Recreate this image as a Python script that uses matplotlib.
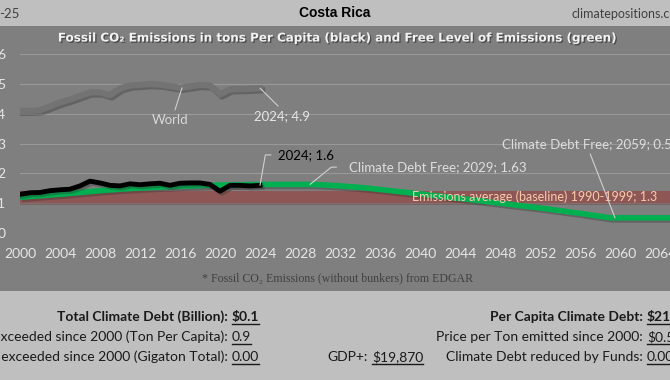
import matplotlib
matplotlib.use("Agg")
import matplotlib.pyplot as plt
import matplotlib.patheffects as pe
from matplotlib.patches import Rectangle
from matplotlib.lines import Line2D

# ---------------- data ----------------
years_cr = list(range(2000, 2025))
costa_rica = [1.30, 1.35, 1.36, 1.42, 1.45, 1.47, 1.58, 1.74, 1.68, 1.60,
              1.58, 1.65, 1.62, 1.65, 1.67, 1.60, 1.67, 1.68, 1.68, 1.63,
              1.40, 1.60, 1.60, 1.58, 1.60]
world = [4.10, 4.10, 4.12, 4.25, 4.38, 4.48, 4.60, 4.72, 4.72, 4.62,
         4.85, 4.95, 4.97, 5.00, 4.98, 4.93, 4.87, 4.92, 4.97, 4.95,
         4.65, 4.82, 4.83, 4.84, 4.86]
years_free = [2000, 2002, 2004, 2006, 2008, 2010, 2012, 2014, 2016, 2018,
              2020, 2022, 2024, 2026, 2029, 2030, 2032, 2034, 2036, 2040,
              2044, 2048, 2052, 2056, 2059, 2065]
free_level = [1.20, 1.25, 1.30, 1.36, 1.42, 1.47, 1.51, 1.54, 1.57, 1.59,
              1.61, 1.62, 1.63, 1.63, 1.63, 1.62, 1.58, 1.53, 1.46, 1.31,
              1.16, 1.00, 0.84, 0.66, 0.51, 0.51]
baseline_low, baseline_high = 1.0, 1.4
x_ticks = list(range(2000, 2068, 4))
y_ticks = [0, 1, 2, 3, 4, 5, 6]

W, H = 670, 380
def fx(x): return x / W
def fy(y): return 1 - y / H

FONT = "Lato"
LFS = 9.5
fig = plt.figure(figsize=(6.7, 3.8), dpi=100)
fig.patch.set_facecolor("#bfbfbf")

# dark chart panel
fig.patches.append(Rectangle((0, fy(291)), 1, fy(26) - fy(291),
                             transform=fig.transFigure, facecolor="#7f7f7f",
                             edgecolor="none", zorder=-10))

ax = fig.add_axes([fx(20), fy(233), 1 - fx(20), fy(54.2) - fy(233)])
ax.set_zorder(1)
ax.set_facecolor("none")
ax.set_xlim(2000, 2065)
ax.set_ylim(0, 6)
for s in ax.spines.values():
    s.set_visible(False)
ax.set_yticks(y_ticks)
ax.set_xticks(x_ticks)
ax.grid(axis="y", color="#999999", lw=0.8)
ax.set_axisbelow(True)
ax.tick_params(length=0, colors="#e6e6e6", labelsize=10)
ax.tick_params(axis="x", pad=11)
ax.tick_params(axis="y", pad=10.5)
for lab in ax.get_xticklabels() + ax.get_yticklabels():
    lab.set_fontfamily(FONT)

shadow = [pe.SimpleLineShadow(offset=(1.5, -1.5), alpha=0.35, shadow_color="#303030"), pe.Normal()]

# baseline band
ax.fill_between([2000, 2065], baseline_low, baseline_high, color="#8e5654", lw=0, zorder=1)
ax.fill_between([2000, 2065], baseline_low - 0.05, baseline_low, color="#6e5554", lw=0, zorder=1, alpha=0.6)

ax.plot(years_free, free_level, color="#00b050", lw=4, zorder=3, path_effects=shadow,
        solid_capstyle="butt")
ax.plot(years_cr, world, color="#737373", lw=4.5, zorder=3, path_effects=shadow)
ax.plot(years_cr, costa_rica, color="black", lw=3.5, zorder=4, path_effects=shadow)

lead = dict(arrowstyle="-", color="#d0d0d0", lw=0.8, shrinkA=1, shrinkB=0)
ax.text(2039.2, 1.21, "Emissions average (baseline) 1990-1999; 1.3", color="#f8cbad",
        fontsize=9, family=FONT, va="center", ha="left", zorder=5)

ax.annotate("World", xy=(2016.2, world[16]), xytext=(2015, 3.79), color="#d9d9d9",
            fontsize=LFS, family=FONT, ha="center", va="center",
            arrowprops=dict(lead, relpos=(0.6, 1.0)), zorder=5)
ax.annotate("2024; %.1f" % world[-1], xy=(years_cr[-1], world[-1]), xytext=(2026.2, 3.93),
            color="#e6e6e6", fontsize=LFS, family=FONT, ha="center", va="center",
            arrowprops=dict(lead, relpos=(0.5, 1.0)), zorder=5)
ax.annotate("2024; %.1f" % costa_rica[-1], xy=(years_cr[-1], costa_rica[-1]),
            xytext=(2025.8, 2.62), color="black", fontsize=LFS, family=FONT,
            ha="left", va="center",
            arrowprops=dict(lead, relpos=(0, 0.5), shrinkA=3,
                            connectionstyle="angle,angleA=0,angleB=80,rad=0"), zorder=5)
ax.annotate("Climate Debt Free; 2029; 1.63", xy=(2029, 1.63), xytext=(2032.9, 2.21),
            color="#dedede", fontsize=LFS, family=FONT, ha="left", va="center",
            arrowprops=dict(lead, relpos=(0, 0.5), shrinkA=7,
                            connectionstyle="angle,angleA=0,angleB=39,rad=0"), zorder=5)
ax.annotate("Climate Debt Free; 2059; 0.5", xy=(2059.5, 0.51), xytext=(2048.2, 2.99),
            color="#dedede", fontsize=LFS, family=FONT, ha="left", va="center",
            arrowprops=dict(lead, relpos=(0.51, 0.0)), zorder=5)

# titles
fig.text(fx(335), fy(13), "Costa Rica", fontsize=10, fontweight="bold", family="Liberation Sans",
         ha="center", va="center", color="black")
fig.text(fx(-1), fy(14), "-25", fontsize=9.5, family=FONT, ha="left", va="center", color="#404040")
fig.text(fx(572), fy(14), "climatepositions.com", fontsize=9, family=FONT, ha="left",
         va="center", color="#404040")
fig.text(fx(336), fy(38),
         "Fossil CO\u2082 Emissions in tons Per Capita (black) and Free Level of Emissions (green)",
         fontsize=8.6, fontweight="bold", family="DejaVu Sans", ha="center", va="center",
         color="#f2f2f2",
         path_effects=[pe.SimplePatchShadow(offset=(1, -1), shadow_rgbFace="#3a3a3a", alpha=0.7),
                       pe.Normal()])
fig.text(fx(338), fy(278), "* Fossil CO\u2082 Emissions (without bunkers) from EDGAR",
         fontsize=8.6, family="Liberation Serif", ha="center", va="center", color="#404040")

# bottom panel
rows = [317, 337, 357]
left_lbl = [("Total Climate Debt (Billion):", "$0.1", True),
            ("Emissions exceeded since 2000 (Ton Per Capita):", "0.9", False),
            ("Emissions exceeded since 2000 (Gigaton Total):", "0.00", False)]
right_lbl = [("Per Capita Climate Debt:", "$21", True),
             ("Price per Ton emitted since 2000:", "$0.55", False),
             ("Climate Debt reduced by Funds:", "0.00", False)]
FS = 10
values_texts = []
for (lbl, val, b), y in zip(left_lbl, rows):
    fig.text(fx(228), fy(y), lbl, fontsize=FS, family=FONT, ha="right", va="center",
             color="#1a1a1a", fontweight="bold" if b else "normal")
    values_texts.append(fig.text(fx(232), fy(y), val, fontsize=FS, family=FONT, ha="left",
                                 va="center", color="#1a1a1a", fontweight="bold" if b else "normal"))
for (lbl, val, b), y in zip(right_lbl, rows):
    fig.text(fx(643), fy(y), lbl, fontsize=FS, family=FONT, ha="right", va="center",
             color="#1a1a1a", fontweight="bold" if b else "normal")
    values_texts.append(fig.text(fx(647), fy(y), val, fontsize=FS, family=FONT, ha="left",
                                 va="center", color="#1a1a1a", fontweight="bold" if b else "normal"))
fig.text(fx(368), fy(357), "GDP+:", fontsize=FS, family=FONT, ha="right", va="center", color="#1a1a1a")
values_texts.append(fig.text(fx(372), fy(357), "$19,870", fontsize=FS, family=FONT, ha="left",
                             va="center", color="#1a1a1a"))

fig.canvas.draw()
r = fig.canvas.get_renderer()
for t in values_texts:
    bb = t.get_window_extent(r)
    yl = bb.y0 - 1
    fig.add_artist(Line2D([bb.x0 / W, bb.x1 / W], [yl / H, yl / H], color="#1a1a1a", lw=1,
                          transform=fig.transFigure))

fig.savefig("out.png", dpi=100, facecolor=fig.get_facecolor())
